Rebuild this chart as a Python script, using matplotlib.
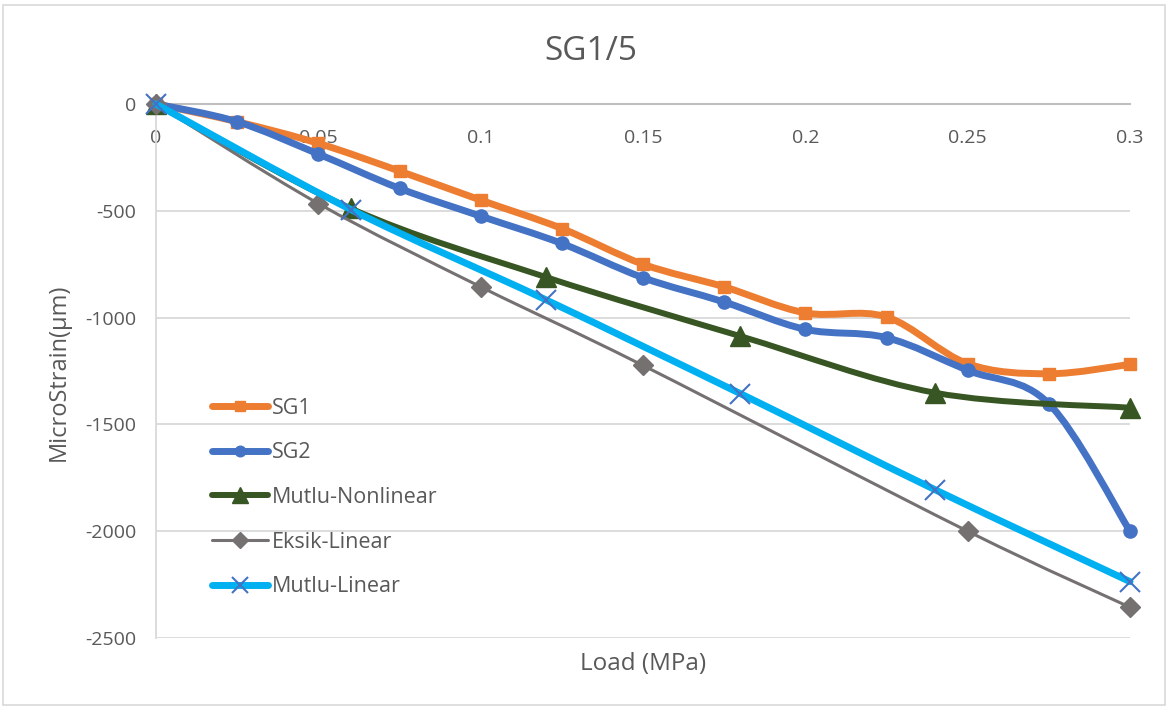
import matplotlib
matplotlib.use("Agg")
import matplotlib.pyplot as plt
import numpy as np
from matplotlib.path import Path
from matplotlib.patches import PathPatch, Rectangle
from matplotlib.lines import Line2D

plt.rcParams['font.family'] = ['Open Sans', 'DejaVu Sans']

# load steps (MPa)
load_sg = [0, 0.025, 0.05, 0.075, 0.1, 0.125, 0.15, 0.175, 0.2, 0.225, 0.25, 0.275, 0.3]
load_mutlu = [0, 0.06, 0.12, 0.18, 0.24, 0.3]
load_eksik = [0, 0.05, 0.1, 0.15, 0.25, 0.3]

# microstrain readings
sg1 = [0, -83, -184, -314, -450, -583, -750, -856, -978, -997, -1216, -1263, -1219]
sg2 = [0, -83, -234, -395, -525, -653, -813, -927, -1055, -1094, -1247, -1403, -2000]
mutlu_nonlinear = [0, -489, -810, -1087, -1352, -1422]
eksik_linear = [0, -466, -856, -1224, -2000, -2356]
mutlu_linear = [0, -494, -916, -1356, -1806, -2236]

x_ticks = [0, 0.05, 0.1, 0.15, 0.2, 0.25, 0.3]
y_ticks = [0, -500, -1000, -1500, -2000, -2500]


def smooth_path(xs, ys):
    """Catmull-Rom style bezier through the points (like Excel smoothed lines)"""
    pts = np.column_stack([xs, ys]).astype(float)
    n = len(pts)
    verts = [pts[0]]
    codes = [Path.MOVETO]
    for i in range(n - 1):
        p0 = pts[max(i - 1, 0)]
        p1 = pts[i]
        p2 = pts[i + 1]
        p3 = pts[min(i + 2, n - 1)]
        verts += [p1 + (p2 - p0) / 6, p2 - (p3 - p1) / 6, p2]
        codes += [Path.CURVE4] * 3
    return Path(verts, codes)


series = [
    # label, x, y, line colour, lw, marker, size, marker colour, mew
    ("SG1", load_sg, sg1, "#ED7D31", 5.0, "s", 9, "#ED7D31", 1),
    ("SG2", load_sg, sg2, "#4472C4", 5.0, "o", 9.5, "#4472C4", 1),
    ("Mutlu-Nonlinear", load_mutlu, mutlu_nonlinear, "#375623", 4.3, "^", 14, "#375623", 1),
    ("Eksik-Linear", load_eksik, eksik_linear, "#767171", 2.2, "D", 10, "#767171", 1),
    ("Mutlu-Linear", load_mutlu, mutlu_linear, "#00B0F0", 5.0, "x", 15, "#4472C4", 1.5),
]

fig = plt.figure(figsize=(11.71, 7.07), dpi=100)
ax = fig.add_axes([156 / 1171, 1 - 638 / 707, 974 / 1171, 534 / 707])

handles = []
for z, (label, xs, ys, color, lw, mk, ms, mc, mew) in enumerate(series):
    ax.add_patch(PathPatch(smooth_path(xs, ys), facecolor="none", edgecolor=color,
                           lw=lw, capstyle="round", joinstyle="round",
                           zorder=3 + z, clip_on=False))
    ax.plot(xs, ys, ls="none", marker=mk, ms=ms, color=mc, mec=mc, mew=mew,
            zorder=3 + z, clip_on=False)
    handles.append(Line2D([], [], color=color, lw=lw, marker=mk, ms=ms * 0.8,
                          mfc=mc, mec=mc, mew=mew, solid_capstyle="round"))

ax.set_xlim(0, 0.3)
ax.set_ylim(-2500, 0)
ax.set_xticks(x_ticks)
ax.set_xticklabels(["0", "0.05", "0.1", "0.15", "0.2", "0.25", "0.3"])
ax.set_yticks(y_ticks)
ax.set_yticklabels([str(v) for v in y_ticks])

ax.tick_params(axis="x", top=True, labeltop=True, bottom=False, labelbottom=False,
               length=0, pad=-31, labelsize=14, labelcolor="#595959")
ax.tick_params(axis="y", length=0, pad=14, labelsize=14, labelcolor="#595959")

ax.yaxis.grid(True, color="#D9D9D9", lw=1.3)
ax.set_axisbelow(True)
for side in ["right", "bottom"]:
    ax.spines[side].set_visible(False)
ax.spines["left"].set_color("#D9D9D9")
ax.spines["left"].set_linewidth(1.3)
ax.spines["top"].set_color("#BFBFBF")
ax.spines["top"].set_linewidth(1.5)

ax.set_xlabel("Load (MPa)", fontsize=17.5, color="#595959")
ax.xaxis.set_label_coords(0.5, -0.027)
ax.set_ylabel("MicroStrain(µm)", fontsize=17, color="#595959")
ax.yaxis.set_label_coords(-0.088, 0.497)
fig.text(591 / 1171, 1 - 52 / 707, "SG1/5", fontsize=24, color="#595959",
         ha="center", va="center")

ax.legend(handles, [s[0] for s in series], loc="upper left",
          bbox_to_anchor=(203 / 1171, 1 - 389 / 707), bbox_transform=fig.transFigure,
          frameon=False, fontsize=15.5, labelcolor="#595959", handlelength=2.6,
          handletextpad=0.2, labelspacing=1.1, borderaxespad=0)

# light chart-area border
fig.patches.append(Rectangle((3 / 1171, 2 / 707), 1162 / 1171, 700 / 707,
                             transform=fig.transFigure, fill=False,
                             edgecolor="#D9D9D9", lw=1.2))

fig.savefig("out.png", dpi=100)
